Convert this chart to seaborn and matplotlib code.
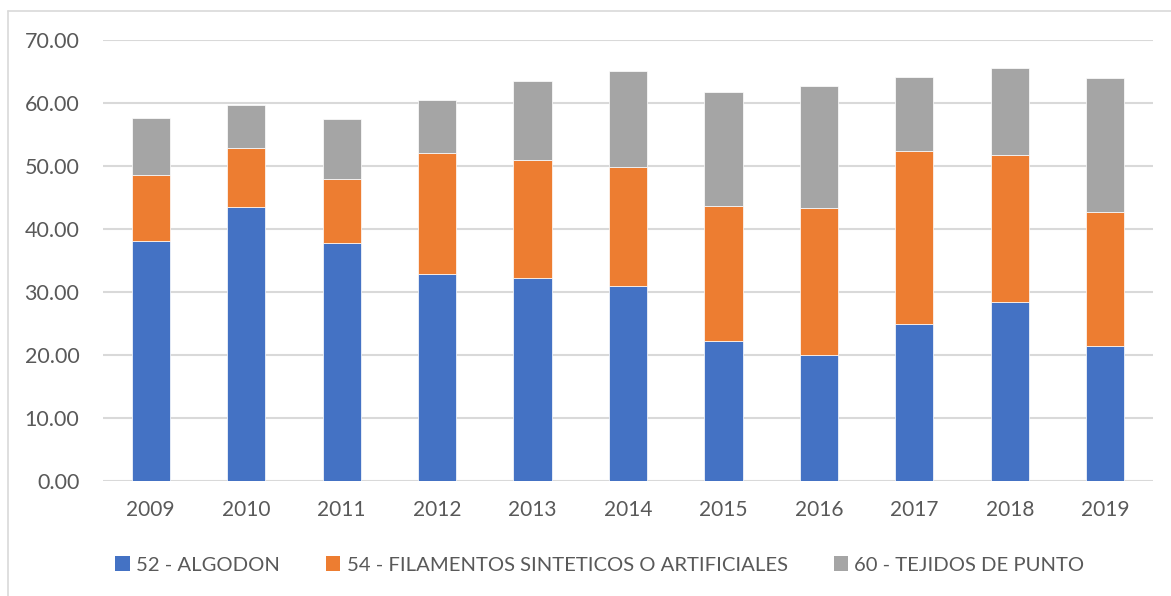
import numpy as np
import pandas as pd
import seaborn as sns
import matplotlib.pyplot as plt
from matplotlib.patches import Patch
from matplotlib.lines import Line2D
from matplotlib.ticker import FormatStrFormatter

# Data
years = ['2009', '2010', '2011', '2012', '2013', '2014', '2015', '2016', '2017', '2018', '2019']
algodon = [38.1, 43.5, 37.7, 32.9, 32.2, 31.0, 22.3, 20.0, 24.9, 28.4, 21.4]
filamentos = [10.4, 9.3, 10.3, 19.2, 18.7, 18.8, 21.4, 23.4, 27.5, 23.3, 21.3]
tejidos = [9.1, 6.9, 9.5, 8.4, 12.6, 15.3, 18.1, 19.3, 11.8, 13.8, 21.2]

series_names = ['52 - ALGODON', '54 - FILAMENTOS SINTETICOS O ARTIFICIALES', '60 - TEJIDOS DE PUNTO']
colors = ['#4472C4', '#ED7D31', '#A5A5A5']

df = pd.DataFrame({'year': years, 'algodon': algodon, 'filamentos': filamentos, 'tejidos': tejidos})

sns.set_theme(style='white')
plt.rcParams['font.family'] = ['Lato', 'DejaVu Sans']
text_color = '#595959'

fig = plt.figure(figsize=(11.71, 5.96), dpi=100)
ax = fig.add_axes([103 / 1171, 1 - 481 / 596, (1153 - 103) / 1171, (481 - 40) / 596])

bottom = np.zeros(len(years))
for col, c in zip(['algodon', 'filamentos', 'tejidos'], colors):
    sns.barplot(data=df, x='year', y=col, color=c, width=0.4, bottom=bottom,
                edgecolor='white', linewidth=0.5, saturation=1, ax=ax, zorder=3)
    bottom = bottom + df[col].values

ax.set_ylim(0, 70)
ax.set_xlim(-0.5, len(years) - 0.5)
ax.set_yticks(range(0, 71, 10))
ax.yaxis.set_major_formatter(FormatStrFormatter('%.2f'))
ax.grid(axis='y', color='#d9d9d9', linewidth=1.5, zorder=0)
ax.grid(axis='x', visible=False)
for s in ax.spines.values():
    s.set_visible(False)
ax.tick_params(axis='y', length=0, pad=17, labelsize=15.5, labelcolor=text_color)
ax.tick_params(axis='x', length=0, pad=14, labelsize=15, labelcolor=text_color)
ax.set_xlabel('')
ax.set_ylabel('')

handles = [Patch(facecolor=c, edgecolor='none', label=n) for c, n in zip(colors, series_names)]
leg = fig.legend(handles=handles, loc='center', bbox_to_anchor=(600 / 1171, 1 - 565 / 596), ncol=3,
                 frameon=False, fontsize=14.6, handlelength=0.7, handleheight=0.7,
                 handletextpad=0.3, columnspacing=2.3)
for t in leg.get_texts():
    t.set_color(text_color)

# outer chart border (top and left visible in the crop)
fig.add_artist(Line2D([8 / 1171, 8 / 1171], [0, 1 - 11 / 596], color='#d9d9d9', linewidth=1.2))
fig.add_artist(Line2D([8 / 1171, 1], [1 - 11 / 596, 1 - 11 / 596], color='#d9d9d9', linewidth=1.2))

fig.savefig('out.png', dpi=100, facecolor='white')
